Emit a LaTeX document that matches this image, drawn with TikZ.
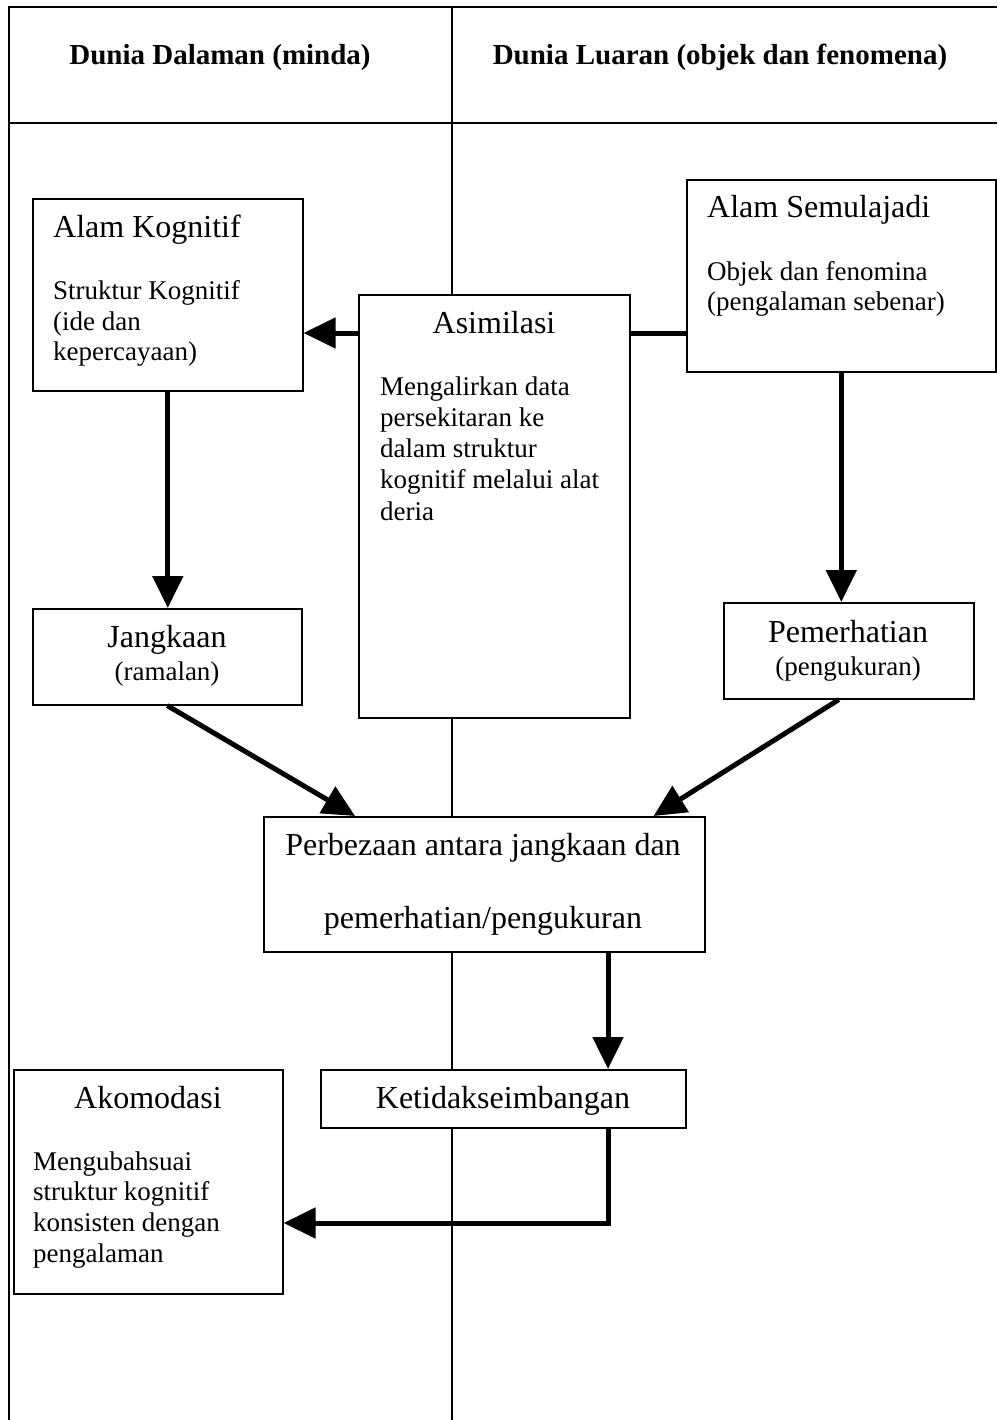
\documentclass[tikz,border=0pt]{standalone}
\usepackage{fontspec}
\setmainfont{Liberation Serif}
\usetikzlibrary{arrows.meta}
% left-aligned stack of lines whose reference point is the first baseline
\newcommand\textrows[1]{\begin{tabular}[t]{@{}l@{}}#1\end{tabular}}

\begin{document}
\begin{tikzpicture}[x=1pt,y=-1pt,
  frame/.style={line width=1.3pt},
  box/.style={draw, line width=1.6pt, inner sep=0pt, anchor=north west},
  heading/.style={font=\fontsize{29}{33}\selectfont\bfseries, anchor=base, inner sep=0pt},
  title/.style={font=\fontsize{32}{36}\selectfont, inner sep=0pt},
  body/.style={font=\fontsize{27}{30}\selectfont, anchor=base west, inner sep=0pt},
  flow/.style={line width=5pt, -{Triangle[length=32pt,width=30pt]}},
  link/.style={line width=5pt}]

\useasboundingbox (0,0) rectangle (997,1420);

% table frame: outer edges and header rule
\draw[frame] (9,1420) -- (9,7) -- (997,7);
\draw[frame] (9,123) -- (997,123);

% column headings
\node[heading] (hin) at (220,65) {Dunia Dalaman (minda)};
\node[heading] (hout) at (720,65) {Dunia Luaran (objek dan fenomena)};

% boxes
\node[box, minimum width=270pt, minimum height=192pt] (kog)  at (32,198)  {};
\node[box, minimum width=271pt, minimum height=423pt] (asim) at (358,294) {};
\node[box, minimum width=309pt, minimum height=192pt] (sem)  at (686,179) {};
\node[box, minimum width=269pt, minimum height=96pt]  (jang) at (32,608)  {};
\node[box, minimum width=250pt, minimum height=96pt]  (pem)  at (723,602) {};
\node[box, minimum width=441pt, minimum height=135pt] (perb) at (263,816) {};
\node[box, minimum width=365pt, minimum height=58pt]  (ket)  at (320,1069) {};
\node[box, minimum width=269pt, minimum height=224pt] (ako)  at (13,1069) {};

% column divider, broken by the boxes it meets
\coordinate (divtop) at (452,7);
\coordinate (divbot) at (452,1420);
\draw[frame] (divtop) -- (asim.north -| divtop);
\draw[frame] (asim.south -| divtop) -- (perb.north -| divtop);
\draw[frame] (perb.south -| divtop) -- (ket.north -| divtop);
\draw[frame] (ket.south -| divtop) -- (divbot);

% box texts
\node[title, anchor=base west] (kogT) at (53,238) {Alam Kognitif};
\node[body] (kogB) at (53,300) {\textrows{Struktur Kognitif\\(ide dan\\kepercayaan)}};

\node[title, anchor=base] (asimT) at (494,334) {Asimilasi};
\node[body, font=\fontsize{27}{31.3}\selectfont] (asimB) at (380,395)
  {\textrows{Mengalirkan data\\persekitaran ke\\dalam struktur\\kognitif melalui alat\\deria}};

\node[title, anchor=base west] (semT) at (707,218) {Alam Semulajadi};
\node[body] (semB) at (707,280) {\textrows{Objek dan fenomina\\(pengalaman sebenar)}};

\node[title, anchor=base] (jangT) at (167,647) {Jangkaan};
\node[body, anchor=base] (jangB) at (167,680) {(ramalan)};

\node[title, anchor=base] (pemT) at (848,642) {Pemerhatian};
\node[body, anchor=base] (pemB) at (848,675) {(pengukuran)};

\node[title, anchor=base] (perbA) at (483,855) {Perbezaan antara jangkaan dan};
\node[title, anchor=base] (perbB) at (483,928) {pemerhatian/pengukuran};

\node[title, anchor=base] (ketT) at (503,1108) {Ketidakseimbangan};

\node[title, anchor=base] (akoT) at (148,1108) {Akomodasi};
\node[body, font=\fontsize{27}{30.7}\selectfont] (akoB) at (33,1170)
  {\textrows{Mengubahsuai\\struktur kognitif\\konsisten dengan\\pengalaman}};

% connectors
\coordinate (ya) at (0,333);
\coordinate (xk) at (608,0);
\coordinate (yk) at (0,1223);

\draw[flow] (asim.west |- ya) -- (kog.east |- ya);
\draw[link] (asim.east |- ya) -- (sem.west |- ya);
\draw[flow] (kog.south) -- (kog.south |- jang.north);
\draw[flow] (sem.south) -- (sem.south |- pem.north);
\draw[flow] (jang.south) -- ([xshift=92pt]perb.north west);
\draw[flow] ([xshift=-10pt]pem.south) -- ([xshift=-52pt]perb.north east);
\draw[flow] (perb.south -| xk) -- (ket.north -| xk);
\draw[flow] (ket.south -| xk) -- (xk |- yk) -- (ako.east |- yk);

\end{tikzpicture}
\end{document}
